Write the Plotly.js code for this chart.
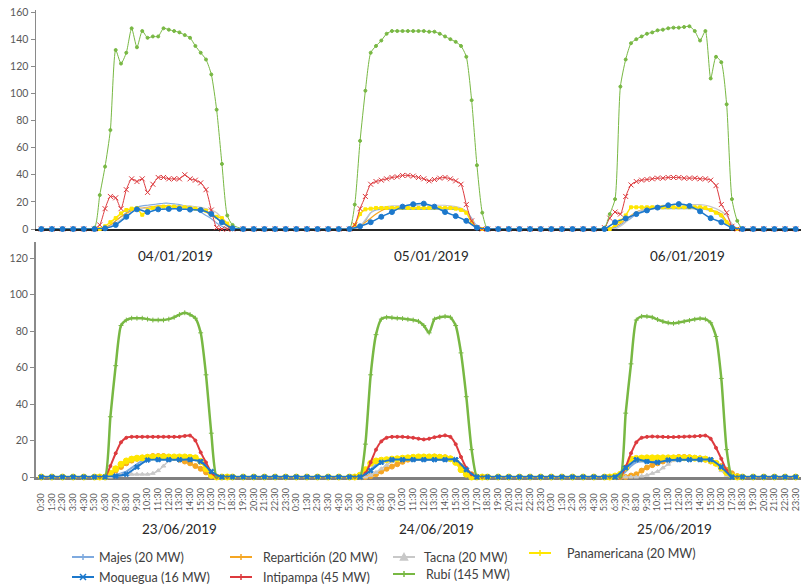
<!DOCTYPE html>
<html><head><meta charset="utf-8">
<script src="https://cdn.plot.ly/plotly-3.0.1.min.js"></script>
<style>html,body{margin:0;padding:0;background:#fff}#chart{width:801px;height:586px}</style>
</head><body><div id="chart"></div>
<script>
// ---------- time bases (hours of day) ----------
const HOURS = [0.5,1.5,2.5,3.5,4.5,5.5,6.5,7.5,8.5,9.5,10.5,11.5,12.5,13.5,14.5,15.5,16.5,17.5,18.5,19.5,20.5,21.5,22.5,23.5];
const HALF_TIMES = [0.5,1.5,2.5,3.5,4.5,
  5.5,6,6.5,7,7.5,8,8.5,9,9.5,10,10.5,11,11.5,12,12.5,13,13.5,14,14.5,15,15.5,16,16.5,17,17.5,18,18.5,
  19.5,20.5,21.5,22.5,23.5];
const NIGHT_AM = [0,0,0,0,0];
const NIGHT_PM = [0,0,0,0,0];
const TICK_LABELS = ['0:30','1:30','2:30','3:30','4:30','5:30','6:30','7:30','8:30','9:30','10:30','11:30','12:30','13:30','14:30','15:30','16:30','17:30','18:30','19:30','20:30','21:30','22:30','23:30'];
const DAYS_TOP = ['04/01/2019','05/01/2019','06/01/2019'];
const DAYS_BOTTOM = ['23/06/2019','24/06/2019','25/06/2019'];
const SERIES_NAMES = ['Majes (20 MW)','Repartición (20 MW)','Tacna (20 MW)','Panamericana (20 MW)','Moquegua (16 MW)','Intipampa (45 MW)','Rubí (145 MW)'];

// ---------- January (daytime values 5:30 .. 18:30, every 30 min) ----------
const RUBI_0401 = [1,25,46,73,132,122,130,148,134,146,141,142,142,148,147,146,145,143,141,135,130,125,114,88,48,10,3];
const RUBI_0501 = [0,18,65,102,130,135,139,144,146,146,146,146,146,146,146,145.5,145.5,144,142,140,138,135,127,95,47,12,0];
const RUBI_0601 = [1,11,22,105,125,137,140,142,144,145,146.5,147,148,148.5,148.5,149,149.5,146,139,146,111,127,123,92,22,6,0];
const INTI_0401 = [0,3,15,24,23,15,29,37,35,37,27,33,38,38,37,37,37,40,37,36,34,29,14,1,0,0,0];
const INTI_0501 = [0,3,15,24,33,35,36,37,38,38.5,39.5,39.5,39,38,37,35.5,36.5,37.5,38,37,35.5,33,18,6,1,0,0];
const INTI_0601 = [1,8,12.5,11,24,32.5,35,36,36.5,37,37.5,37.5,38,38,38,37.5,37.5,37.5,37,37,36,32,18,12,2,0,0];
const PAN_0401 = [0,0,2,5,8,11.5,14,15,15.5,10.5,14,15.5,16,16.5,16.5,16.5,16,16,15.5,15,14.5,13.5,11,9,8,4,0.5];
const PAN_0501 = [0,3,11,14.5,15,15.5,15.5,15.5,15.5,15.5,15.5,15.5,15.5,15.5,15.5,15.5,15.5,15.5,15.5,15.5,15,14,12,5,1,0,0];
const PAN_0601 = [0,0,3,6,10,16,16,16,16,16,16,16,16,16,16,16,16,16,16,15.5,14,12,10,5,1,0,0];
const MAJES_0401 = [0,0,1,3,6,9,12,14.5,16,17,17.5,18,18.5,19,19,18.5,18,17,16,14.5,12.5,10,7.5,4.5,2,0.5,0];
const MAJES_0501 = [0,0,2,6,12,14,14.5,14.5,14.5,14.5,14.5,14.5,14.5,14.5,14.5,14.5,14.5,14.5,14.5,14.5,14.5,14,13,8,2,0,0];
const MAJES_0601 = [0,0,1,3,5.5,8,11,13,14.5,15,15,15,15,15,15,15,15,15,15,14.5,13.5,12,9,5,1,0,0];
const REP_0401 = [0,0,1,3,6,9,11.5,13.5,15,15.5,16,16.5,17,17,17,16.5,16.5,16,15.5,15,14,12.5,10,8,5,2,0];
const REP_0501 = [0,0,2,5,8,11,13.5,15,15.5,15.5,15.5,15.5,15.5,15.5,15.5,15.5,15.5,15.5,15.5,15.5,15.5,15,13,6,1.5,0,0];
const REP_0601 = [0,0,2,4,7,10,12.5,14,15,15.5,16,16,16,16,16,16,16,16,15.5,15,14,13,11,6,2,0,0];
const TAC_0401 = [0,0,0,2,4,7,10,12.5,14,15,15.5,16,16,16.5,16.5,17,17,17,17,16.5,16,15,14,12,8,3,0];
const TAC_0501 = [0,0,2,7,12,15,16,16.5,17,17,17,17,17,17.5,17.5,17.5,17.5,17.5,17.5,17,16.5,15.5,13,7,2,0,0];
const TAC_0601 = [0,0,0,2,5,9,12,14,15.5,16.5,17,17.5,17.5,18,18,18,18,18,18,17.5,16.5,15,13,10,4,0,0];
// Moquegua, hourly 0:30 .. 23:30
const MOQ_0401 = [0,0,0,0,0,0,0.5,3,9,14.5,12.5,14.5,14.8,14.8,14.3,14,11,5,0.5,0,0,0,0,0];
const MOQ_0501 = [0,0,0,0,0,0,2,5,9,12.5,16.5,18.3,18.7,16.5,12.5,9.5,6,1,0,0,0,0,0,0];
const MOQ_0601 = [0,0,0,0,0,0,5,7.8,11,13.7,15.8,17.5,18.4,17,13,8,5,1,0,0,0,0,0,0];

// ---------- June ----------
const RUBI_2306 = [0,0,0,33,61,83,86,87,87,87,86.5,86,86,86,86.5,87.5,89,90,89,87,79,56,24,0,0,0,0];
const RUBI_2406 = [0,0,0,18,56,78,86.5,87.5,87.3,87,86.8,86.4,86,85.3,83,79,86.5,87.5,88,87.5,83,68,44,15,0,0,0];
const RUBI_2506 = [0,0,0,0,35,62,86,88,88,87.5,86.3,85.2,84.5,84.2,84.7,85.2,85.8,86.4,86.8,86.5,84.5,77,54,15,0,0,0];
const INTI_2306 = [0,0,0,6,13,19,21.5,22,22,22,22,22,22,22,22,22,22,22.5,22.7,20,13.5,8,2.5,0,0,0,0];
const INTI_2406 = [0,0,0,2,8,15,19.5,21.5,22,22,22,21.8,21.5,21,20.6,21,21.8,22.3,22.8,22,18,11,5,1.5,0,0,0];
const INTI_2506 = [0,0,0,0,5.5,13,19,21.5,22,22.2,22.1,22,21.9,21.9,22,22.1,22.2,22.3,22.5,22.7,21,16,10,3.5,0,0,0];
const PAN_2306 = [0,0,0,2,4.5,7,8.8,9.8,10.3,10.5,10.8,11,11,11,11,11,11,11,10.8,10.5,8.5,4.5,1,0,0,0,0];
const PAN_2406 = [0,0,1,4,7.5,8.8,9.2,9.5,9.8,10,10.3,10.5,10.8,11,11,11,11,10.8,10.5,10,8,4,1.5,0,0,0,0];
const PAN_2506 = [0,0,0.5,1.5,5,9.8,10.2,10.4,10.5,10.5,10.5,10.5,10.5,10.5,10.5,10.5,10.5,10.3,10,9.8,9,7.5,5,2.5,0.5,0,0];
const REP_2306 = [0,0,0,1.5,3.5,5.5,7.5,9,10,10.5,11,11.5,11.5,11.5,11,10.5,9.5,8.5,7.5,6,4.5,2.5,0.5,0,0,0,0];
const REP_2406 = [0,0,0,0,0.5,1.5,3,4.5,5.7,7,8.3,9.5,10.2,10.7,11,11,11.2,11,10.8,10,8.5,6,3.5,1.5,0,0,0];
const REP_2506 = [0,0,0,0,0,0.8,1.5,3.5,5.2,6.5,7.5,8.5,9.5,10.5,11,11,10.8,10.5,10,9.5,8.5,7.5,6,4,2,0.5,0];
const TAC_2306 = [0,0,0,0,0.5,1,1.5,1.5,1.5,1.5,1.5,2,3.5,6,9,10.5,11,11,11,10.5,9,5,1.5,0,0,0,0];
const TAC_2406 = [0,0,0,0,1,2.5,4.5,6.5,8.5,9.5,10,10.5,10.5,10.5,10.5,10.5,10.5,10.5,10.5,10.5,8,4,1.5,0,0,0,0];
const TAC_2506 = [0,0,0,0,0,0,0,0.5,1,2,3,5,7,9,10,10.8,11,11,11,10.5,9.5,7,3.5,1,0,0,0];
const MAJES_2306 = [0,0,0,0,1,2,3,5,7,9,9.8,9.8,9.8,9.8,9.8,9.8,9.8,9.8,9.8,9.5,9,6.5,2.5,0,0,0,0];
const MAJES_2406 = [0,0,0,1,4,7,9,9.5,9.5,9.5,9.5,9.5,9.5,9.5,9.5,9.5,9.5,9.5,9.5,9.5,9.5,7,3,0.5,0,0,0];
const MAJES_2506 = [0,0,0,0.5,3,6,8,8.5,8.5,8.5,8.8,9.3,9.3,9.3,9.3,9.3,9.3,9.3,9.3,9.3,9.3,8,4.5,1,0,0,0];
const MOQ_2306 = [0,0,0,0,0,0,0,0.5,1.5,5.5,9.3,9.5,9.5,9.5,9.5,8.5,3,0,0,0,0,0,0,0];
const MOQ_2406 = [0,0,0,0,0,0,0,3.5,8,9.5,9.5,9.5,9.5,9.5,9.5,9.5,4,0,0,0,0,0,0,0];
const MOQ_2506 = [0,0,0,0,0,0,0,5,9.5,8.5,8,9.3,9.5,9.5,9.5,9.5,5.5,0,0,0,0,0,0,0];

// ---------- builders ----------
function halfSeries(days){
  const x=[], y=[];
  days.forEach((arr,d)=>{
    const vals = NIGHT_AM.concat(arr, NIGHT_PM);
    HALF_TIMES.forEach((t,i)=>{ x.push(t+24*d); y.push(vals[i]); });
  });
  return {x,y};
}
function hourSeries(days){
  const x=[], y=[];
  days.forEach((arr,d)=>{ HOURS.forEach((t,i)=>{ x.push(t+24*d); y.push(arr[i]); }); });
  return {x,y};
}

const JAN_DATA = {
  majes: halfSeries([MAJES_0401,MAJES_0501,MAJES_0601]),
  rep: halfSeries([REP_0401,REP_0501,REP_0601]),
  tac: halfSeries([TAC_0401,TAC_0501,TAC_0601]),
  pan: halfSeries([PAN_0401,PAN_0501,PAN_0601]),
  inti: halfSeries([INTI_0401,INTI_0501,INTI_0601]),
  rubi: halfSeries([RUBI_0401,RUBI_0501,RUBI_0601]),
  moq: hourSeries([MOQ_0401,MOQ_0501,MOQ_0601])
};
const JUN_DATA = {
  majes: halfSeries([MAJES_2306,MAJES_2406,MAJES_2506]),
  rep: halfSeries([REP_2306,REP_2406,REP_2506]),
  tac: halfSeries([TAC_2306,TAC_2406,TAC_2506]),
  pan: halfSeries([PAN_2306,PAN_2406,PAN_2506]),
  inti: halfSeries([INTI_2306,INTI_2406,INTI_2506]),
  rubi: halfSeries([RUBI_2306,RUBI_2406,RUBI_2506]),
  moq: hourSeries([MOQ_2306,MOQ_2406,MOQ_2506])
};

const COL = {majes:'#7FAADF', rep:'#F5A623', tac:'#C8C8C8', pan:'#FFE600', moq:'#1C78CC', inti:'#DD3A3E', rubi:'#78B843'};
const NAME = {majes:SERIES_NAMES[0], rep:SERIES_NAMES[1], tac:SERIES_NAMES[2], pan:SERIES_NAMES[3], moq:SERIES_NAMES[4], inti:SERIES_NAMES[5], rubi:SERIES_NAMES[6]};

const topStyle = {
  majes:{w:1.2, mode:'lines'},
  rep:{w:1.2, mode:'lines'},
  tac:{w:1.2, mode:'lines'},
  pan:{w:1.5, mode:'lines+markers', sym:'square', size:3},
  inti:{w:1, mode:'lines+markers', sym:'x-thin-open', size:5},
  rubi:{w:1, mode:'lines+markers', sym:'circle', size:3},
  moq:{w:1.5, mode:'lines+markers', sym:'circle', size:5}
};
const botStyle = {
  majes:{w:2, mode:'lines'},
  rep:{w:2, mode:'lines+markers', sym:'circle', size:5},
  tac:{w:1.5, mode:'lines+markers', sym:'triangle-up', size:4},
  pan:{w:2, mode:'lines+markers', sym:'circle', size:6},
  inti:{w:2, mode:'lines+markers', sym:'circle', size:3},
  rubi:{w:2.5, mode:'lines+markers', sym:'cross-thin-open', size:3.5},
  moq:{w:2, mode:'lines+markers', sym:'x', size:4.5}
};
const ORDER = ['majes','rep','tac','pan','inti','rubi','moq'];
const traces = [];
function addPanel(data, style, xa, ya){
  ORDER.forEach(k=>{
    const s = style[k];
    const t = {type:'scatter', x:data[k].x, y:data[k].y, name:NAME[k], mode:s.mode, xaxis:xa, yaxis:ya,
      showlegend:false, cliponaxis:false, hoverinfo:'skip',
      line:{color:COL[k], width:s.w, shape:'spline', smoothing:0.6}};
    if (s.sym) t.marker = {symbol:s.sym, size:s.size, color:COL[k], line:{color:COL[k], width:1}};
    traces.push(t);
  });
}
addPanel(JAN_DATA, topStyle, 'x', 'y');
addPanel(JUN_DATA, botStyle, 'x2', 'y2');

// ---------- layout geometry ----------
const L=36, T=10, PW=765, PH=467;
const px = v => (v-L)/PW;
const py = v => (T+PH-v)/PH;

const tickvals=[], ticktext=[];
for (let d=0; d<3; d++) TICK_LABELS.forEach((lab,h)=>{ tickvals.push(24*d+h+0.5); ticktext.push(lab.length<5 ? lab+'\u2007' : lab); });

const FONT = 'Lato, "Open Sans", sans-serif';
const annotations = [];
const topDateX = [175, 431, 687], botDateX = [179, 436, 674];
DAYS_TOP.forEach((d,i)=>annotations.push({text:d, xref:'paper', yref:'paper', x:px(topDateX[i]), y:py(256), showarrow:false, xanchor:'center', yanchor:'middle', font:{family:FONT, size:13.5, color:'#262626'}}));
DAYS_BOTTOM.forEach((d,i)=>annotations.push({text:d, xref:'paper', yref:'paper', x:px(botDateX[i]), y:py(529), showarrow:false, xanchor:'center', yanchor:'middle', font:{family:FONT, size:13.5, color:'#262626'}}));

// custom legend
const LEG = [
  {k:'majes', x0:72, x1:94, y:557, tx:97, m:'plus'},
  {k:'rep', x0:230, x1:252, y:557, tx:261, m:'plus'},
  {k:'tac', x0:393, x1:415, y:557, tx:422, m:'tri'},
  {k:'pan', x0:529, x1:551, y:553, tx:565, m:'plus'},
  {k:'moq', x0:72, x1:94, y:577, tx:97, m:'x'},
  {k:'inti', x0:230, x1:252, y:577, tx:261, m:'plus'},
  {k:'rubi', x0:393, x1:415, y:574, tx:424, m:'plus'}
];
const shapes = [];
LEG.forEach(e=>{
  const c = COL[e.k];
  shapes.push({type:'line', xref:'paper', yref:'paper', x0:px(e.x0), x1:px(e.x1), y0:py(e.y), y1:py(e.y), line:{color:c, width:2}});
  const cx=(e.x0+e.x1)/2, cy=e.y, r=3;
  let path;
  if (e.m==='plus') path=`M${px(cx-r)},${py(cy)} L${px(cx+r)},${py(cy)} M${px(cx)},${py(cy-r)} L${px(cx)},${py(cy+r)}`;
  else if (e.m==='x') path=`M${px(cx-r)},${py(cy-r)} L${px(cx+r)},${py(cy+r)} M${px(cx-r)},${py(cy+r)} L${px(cx+r)},${py(cy-r)}`;
  else path=`M${px(cx-3.5)},${py(cy+3)} L${px(cx+3.5)},${py(cy+3)} L${px(cx)},${py(cy-3.5)} Z`;
  shapes.push({type:'path', xref:'paper', yref:'paper', path, line:{color:c, width:1.5}, fillcolor: e.m==='tri'?c:'rgba(0,0,0,0)'});
  annotations.push({text:NAME[e.k], xref:'paper', yref:'paper', x:px(e.tx), y:py(e.y), showarrow:false, xanchor:'left', yanchor:'middle', font:{family:FONT, size:12.5, color:'#404040'}});
});

const yTopRange = [0, (229-T)/1.356];
const yBotRange = [0, (477-242)/1.825];

const layout = {
  width:801, height:586,
  margin:{l:L, r:0, t:T, b:586-T-PH},
  paper_bgcolor:'#ffffff', plot_bgcolor:'rgba(0,0,0,0)',
  showlegend:false,
  font:{family:FONT, color:'#595959'},
  xaxis:{domain:[0,1], range:[0,72], anchor:'y', showline:true, linecolor:'#262626', linewidth:1.5,
    showticklabels:false, ticks:'', showgrid:false, zeroline:false, layer:'below traces', fixedrange:true},
  yaxis:{domain:[py(229),1], range:yTopRange, anchor:'x', showline:true, linecolor:'#8A8A8A', linewidth:1.5,
    ticks:'outside', ticklen:4, tickcolor:'#8A8A8A', tickvals:[0,20,40,60,80,100,120,140,160],
    tickfont:{family:FONT, size:10.5, color:'#595959'}, showgrid:false, zeroline:false, layer:'below traces'},
  xaxis2:{domain:[0,1], range:[0,72], anchor:'y2', showline:true, linecolor:'#808080', linewidth:2.5,
    tickmode:'array', tickvals, ticktext, tickangle:-90, ticks:'outside', ticklen:5, tickcolor:'rgba(0,0,0,0)',
    tickfont:{family:FONT, size:9, color:'#595959'}, showgrid:false, zeroline:false, layer:'below traces'},
  yaxis2:{domain:[0,py(242)], range:yBotRange, anchor:'x2', showline:true, linecolor:'#8A8A8A', linewidth:2,
    ticks:'outside', ticklen:4, tickcolor:'#8A8A8A', tickvals:[0,20,40,60,80,100,120],
    tickfont:{family:FONT, size:10.5, color:'#595959'}, showgrid:false, zeroline:false, layer:'below traces'},
  annotations, shapes
};

Plotly.newPlot('chart', traces, layout, {displayModeBar:false, staticPlot:true});
</script>
</body></html>
